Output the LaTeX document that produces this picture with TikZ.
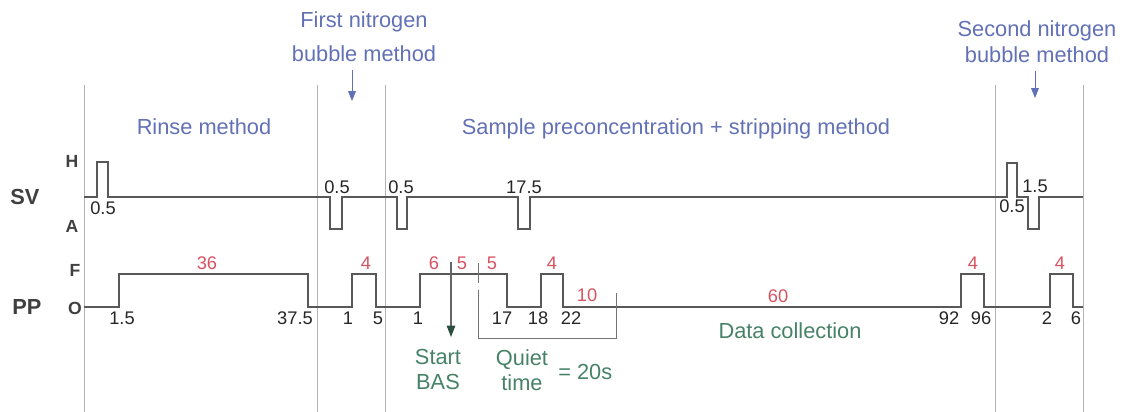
\documentclass[tikz,border=0pt]{standalone}
\usepackage{fontspec}
\setmainfont{Liberation Sans}
\usetikzlibrary{arrows.meta,positioning}
\definecolor{methodblue}{RGB}{98,112,182}
\definecolor{durred}{RGB}{214,82,96}
\definecolor{notegreen}{RGB}{70,130,104}
\definecolor{sigline}{RGB}{88,88,88}
\definecolor{phaseline}{RGB}{178,178,184}
\begin{document}
\begin{tikzpicture}[x=0.025cm,y=-0.025cm,
    method/.style={text=methodblue,font=\fontsize{15.5}{18}\selectfont,anchor=base,inner sep=0pt},
    note/.style={text=notegreen,font=\fontsize{15.5}{18}\selectfont,anchor=base,inner sep=0pt},
    dur/.style={text=durred,font=\fontsize{13}{15}\selectfont,anchor=base,inner sep=0pt},
    num/.style={text=black!85,font=\fontsize{13}{15}\selectfont,anchor=base,inner sep=0pt},
    chan/.style={text=black!75,font=\bfseries\fontsize{15.5}{18}\selectfont,anchor=base,inner sep=0pt},
    lvl/.style={text=black!75,font=\bfseries\fontsize{12.5}{15}\selectfont,anchor=base,inner sep=0pt},
    sig/.style={sigline,line width=0.85pt,line join=miter},
    phase/.style={phaseline,line width=0.6pt},
    downarr/.style={methodblue,line width=0.6pt,-{Triangle[length=7pt,width=5.5pt]},shorten <=5pt},
    basarr/.style={black!60,line width=0.8pt,-{Triangle[length=8pt,width=6pt,fill=notegreen!60!black,color=notegreen!60!black]}},
    bracket/.style={black!55,line width=0.7pt}]
  \useasboundingbox (0,0) rectangle (1127,412);
  % phase separators
  \foreach \x in {84,317,385,995,1083}
    \draw[phase] (\x,85) -- (\x,412);
  % method titles
  \node[method] (fn1) at (364,28) {First nitrogen};
  \node[method] (fn2) at (364,62) {bubble method};
  \node[method] (sn1) at (1037,37) {Second nitrogen};
  \node[method] (sn2) at (1037,63) {bubble method};
  \node[method] (rinse) at (204,135) {Rinse method};
  \node[method] (sample) at (676,135) {Sample preconcentration + stripping method};
  \coordinate (fnTip) at (352,101);
  \coordinate (snTip) at (1035,98);
  \draw[downarr] (fnTip |- fn2.south) -- (fnTip);
  \draw[downarr] (snTip |- sn2.south) -- (snTip);
  % channel labels
  \node[chan] (sv) at (25,205) {SV};
  \node[lvl] (svH) at (72,168) {H};
  \node[lvl] (svA) at (72,233) {A};
  \node[chan] (pp) at (27,315) {PP};
  \node[lvl] (ppF) at (75,277) {F};
  \node[lvl] (ppO) at (75,315) {O};
  % SV trace
  \draw[sig] (84,197) -- (97,197) -- (97,162) -- (108,162) -- (108,197)
    -- (330,197) -- (330,229) -- (342,229) -- (342,197)
    -- (397,197) -- (397,229) -- (407,229) -- (407,197)
    -- (518,197) -- (518,229) -- (530,229) -- (530,197)
    -- (1007,197) -- (1007,163) -- (1017,163) -- (1017,197)
    -- (1028,197) -- (1028,229) -- (1039,229) -- (1039,197) -- (1083,197);
  \node[num] (sv1) at (103,215) {0.5};
  \node[num] (sv2) at (337,194) {0.5};
  \node[num] (sv3) at (401,194) {0.5};
  \node[num] (sv4) at (524,194) {17.5};
  \node[num] (sv5) at (1012,213) {0.5};
  \node[num] (sv6) at (1035,193) {1.5};
  % PP trace
  \draw[sig] (84,307) -- (119,307) -- (119,274) -- (308,274) -- (308,307)
    -- (352,307) -- (352,274) -- (376,274) -- (376,307)
    -- (420,307) -- (420,274) -- (507,274) -- (507,307)
    -- (541,307) -- (541,274) -- (563,274) -- (563,307)
    -- (961,307) -- (961,274) -- (984,274) -- (984,307)
    -- (1050,307) -- (1050,274) -- (1073,274) -- (1073,307) -- (1083,307);
  \foreach \x/\t [count=\i] in {122/1.5,295/37.5,348/1,378/5,418/1,502/17,538/18,571/22,949/92,981/96,1047/2,1076/6}
    \node[num] (pp\i) at (\x,325) {\t};
  \foreach \x/\t [count=\i] in {207/36,366/4,434/6,462/5,492/5,552/4,973/4,1060/4}
    \node[dur] (d\i) at (\x,270) {\t};
  \node[dur] (dquiet) at (587,302) {10};
  \node[dur] (ddata) at (778,303) {60};
  % BAS start and quiet time
  \node[note,align=center,anchor=north] (bas) at (438,349) {Start\\BAS};
  \node[note,align=center,anchor=north] (quiet) at (522,349) {Quiet\\time};
  \node[note,anchor=west] (qeq) at (558,372) {= 20s};
  \node[note] (dc) at (790,339) {Data collection};
  \coordinate (basTop) at (451,262);
  \coordinate (basTip) at (451,337);
  \draw[basarr] (basTop) -- (basTip);
  \coordinate (qTick) at (478,263);
  \draw[bracket] (qTick) -- ++(0,20);
  \coordinate (qL) at (478,290);
  \coordinate (qR) at (616,293);
  \draw[bracket] (qL) -- (qL |- 0,338) -- (qR |- 0,338) -- (qR);
\end{tikzpicture}
\end{document}
